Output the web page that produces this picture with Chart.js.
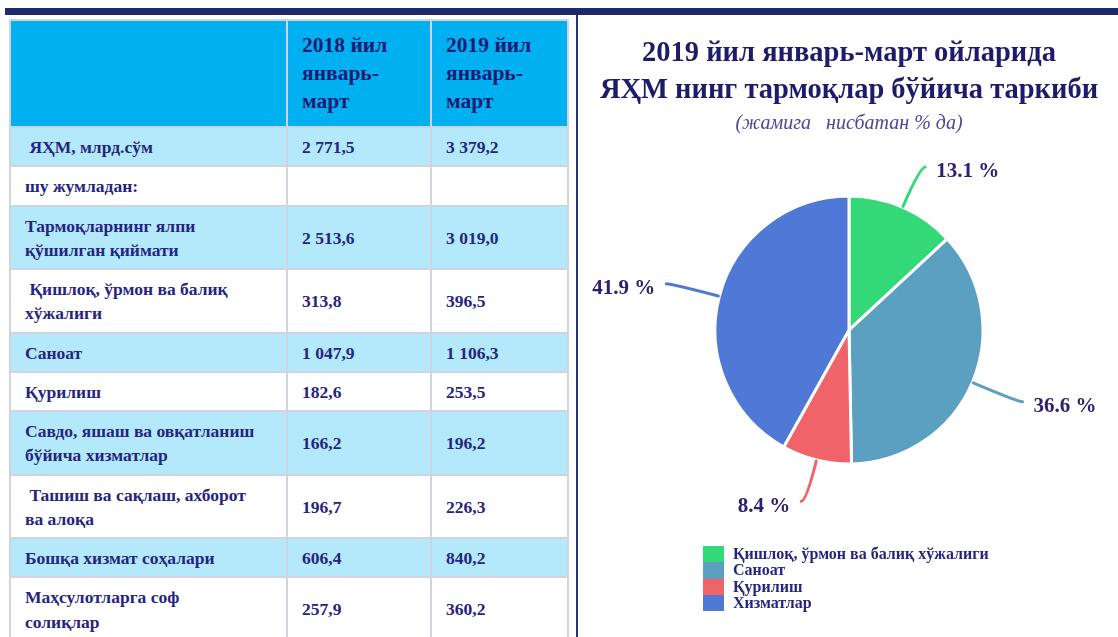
<!DOCTYPE html>
<html>
<head>
<meta charset="utf-8">
<script src="https://cdn.jsdelivr.net/npm/chart.js@4"></script>
<style>
  html, body { margin: 0; padding: 0; background: #fff; overflow: hidden; }
  body { width: 1118px; height: 637px; position: relative; font-family: "Liberation Serif", "Times New Roman", serif; }
  #topBar { position: absolute; left: 5px; top: 8px; width: 1113px; height: 7px; background: #1f2a6b; }
  #sep { position: absolute; left: 576px; top: 15px; width: 2px; height: 622px; background: #2a3372; }
  #tbl { position: absolute; left: 9px; top: 19px; border-collapse: collapse; table-layout: fixed; width: 558px; }
  #tbl td, #tbl th { border: 2px solid #d0d4dc; padding: 7px 10px 6px 14px; font-weight: bold; color: #25257f;
    font-size: 17.5px; line-height: 24.25px; vertical-align: middle; text-align: left; }
  #tbl th { background: #00b0f0; color: #1b1b72; font-size: 21.5px; line-height: 28px; padding-top: 10px; padding-bottom: 11px; }
  #tbl td.lbl { white-space: pre-wrap; }
  #tbl tr.odd td { background: #b3e9fb; }
  #chartBox { position: absolute; left: 580px; top: 0; width: 538px; height: 637px; }
  #legend { position: absolute; left: 703px; top: 546px; font-weight: bold; font-size: 16px; color: #25257f; }
  #legend div { height: 16.3px; line-height: 16px; display: flex; align-items: center; }
  #legend span.box { display: inline-block; width: 21px; height: 16.3px; margin-right: 9px; }
</style>
</head>
<body>
<div id="topBar"></div>
<div id="sep"></div>
<table id="tbl"></table>
<div id="chartBox"><canvas id="pieChart"></canvas></div>
<div id="legend"></div>
<script>
// table data
const columnHeads = [['2018 йил', 'январь-', 'март'], ['2019 йил', 'январь-', 'март']];
const rowLabels = [
    ' ЯҲМ, млрд.сўм',
    'шу жумладан:',
    'Тармоқларнинг ялпи\nқўшилган қиймати',
    ' Қишлоқ, ўрмон ва балиқ\nхўжалиги',
    'Саноат',
    'Қурилиш',
    'Савдо, яшаш ва овқатланиш\nбўйича хизматлар',
    ' Ташиш ва сақлаш, ахборот\nва алоқа',
    'Бошқа хизмат соҳалари',
    'Маҳсулотларга соф\nсолиқлар'
];
const values2018 = [2771.5, null, 2513.6, 313.8, 1047.9, 182.6, 166.2, 196.7, 606.4, 257.9];
const values2019 = [3379.2, null, 3019.0, 396.5, 1106.3, 253.5, 196.2, 226.3, 840.2, 360.2];

// pie data
const pieTitle = ['2019 йил январь-март ойларида', 'ЯҲМ нинг тармоқлар бўйича таркиби'];
const pieSubtitle = '(жамига   нисбатан % да)';
const sectors = ['Қишлоқ, ўрмон ва балиқ хўжалиги', 'Саноат', 'Қурилиш', 'Хизматлар'];
const shares = [13.1, 36.6, 8.4, 41.9];
const sectorColors = ['#33d977', '#5ba0c0', '#f06368', '#5078d6'];

function fmt(v) {
    if (v === null) return '';
    const parts = v.toFixed(1).split('.');
    return parts[0].replace(/\B(?=(\d{3})+(?!\d))/g, ' ') + ',' + parts[1];
}

const tbl = document.getElementById('tbl');
let html = '<colgroup><col style="width:277px"><col style="width:144px"><col style="width:137px"></colgroup>';
html += '<tr><th></th>' + columnHeads.map(h => '<th>' + h.join('<br>') + '</th>').join('') + '</tr>';
rowLabels.forEach((lbl, i) => {
    html += '<tr class="' + (i % 2 === 0 ? 'odd' : 'even') + '"><td class="lbl">' + lbl + '</td><td>' +
        fmt(values2018[i]) + '</td><td>' + fmt(values2019[i]) + '</td></tr>';
});
tbl.innerHTML = html;

document.getElementById('legend').innerHTML = sectors.map((s, i) =>
    '<div><span class="box" style="background:' + sectorColors[i] + '"></span>' + s + '</div>').join('');

// percent labels with leader lines
const leaderLabels = {
    id: 'leaderLabels',
    afterDatasetsDraw(chart) {
        const ctx = chart.ctx;
        const meta = chart.getDatasetMeta(0);
        meta.data.forEach((arc, i) => {
            const p = arc.getProps(['x', 'y', 'startAngle', 'endAngle', 'outerRadius'], true);
            const mid = (p.startAngle + p.endAngle) / 2;
            const c = Math.cos(mid), s = Math.sin(mid);
            const ext = 40 + 10 * Math.abs(c);
            const x0 = p.x + c * (p.outerRadius + 1), y0 = p.y + s * (p.outerRadius + 1);
            const x1 = p.x + c * (p.outerRadius + ext), y1 = p.y + s * (p.outerRadius + ext);
            const dir = c >= 0 ? 1 : -1;
            ctx.save();
            ctx.strokeStyle = sectorColors[i];
            ctx.lineWidth = 3;
            ctx.lineCap = 'round';
            ctx.beginPath();
            ctx.moveTo(x0, y0);
            ctx.quadraticCurveTo(x1, y1, x1 + dir * 5, y1);
            ctx.stroke();
            ctx.fillStyle = '#2b2170';
            ctx.font = 'bold 21px "Liberation Serif"';
            ctx.textBaseline = 'middle';
            ctx.textAlign = dir > 0 ? 'left' : 'right';
            ctx.fillText(shares[i].toFixed(1) + ' %', x1 + dir * 16, y1 + 5);
            ctx.restore();
        });
    }
};

Chart.defaults.font.family = '"Liberation Serif", "Times New Roman", serif';

new Chart(document.getElementById('pieChart'), {
    type: 'pie',
    data: {
        labels: sectors,
        datasets: [{
            data: shares,
            backgroundColor: sectorColors,
            borderColor: '#ffffff',
            borderWidth: 3,
            radius: 134
        }]
    },
    options: {
        responsive: true,
        maintainAspectRatio: false,
        animation: false,
        layout: { padding: { top: 0, bottom: 173, left: 0, right: 0 } },
        plugins: {
            legend: { display: false },
            tooltip: { enabled: false },
            title: {
                display: true,
                text: pieTitle,
                color: '#1e1b6b',
                font: { size: 28.5, weight: 'bold', lineHeight: 1.3 },
                padding: { top: 35.5, bottom: 0 }
            },
            subtitle: {
                display: true,
                text: pieSubtitle,
                color: '#4a4896',
                font: { size: 20, style: 'italic', lineHeight: 1.2 },
                padding: { top: 2.5, bottom: 60 }
            }
        }
    },
    plugins: [leaderLabels]
});
</script>
</body>
</html>
